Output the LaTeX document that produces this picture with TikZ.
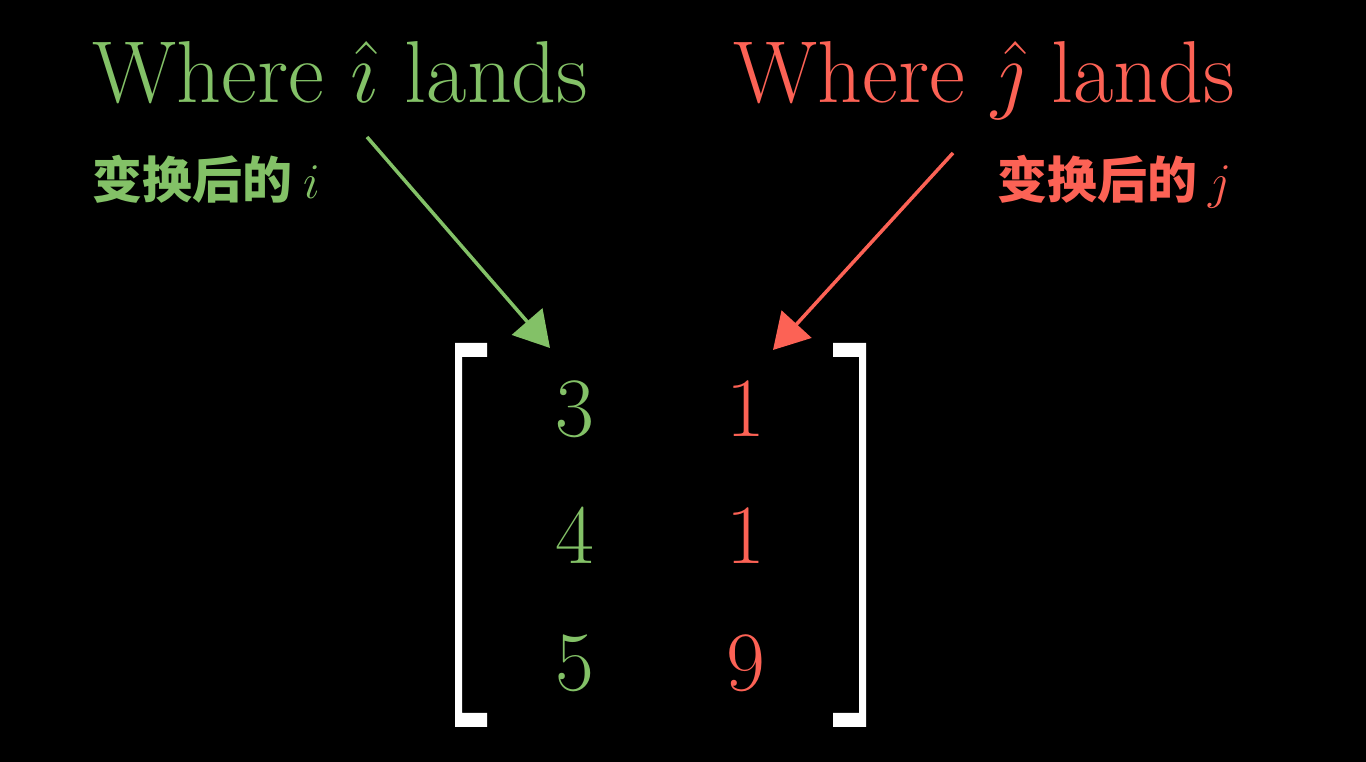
\RequirePackage{fix-cm}
\documentclass[tikz,border=0pt]{standalone}
\usepackage{fontspec}
\newfontfamily\cjk{Noto Sans CJK SC}
\usetikzlibrary{arrows.meta}
\definecolor{basisi}{HTML}{83C167}
\definecolor{basisj}{HTML}{FC6255}

\begin{document}
\begin{tikzpicture}[
  x=0.01cm, y=-0.01cm,
  ttl/.style     = {anchor=base west, inner sep=0pt, font=\fontsize{25}{29}\selectfont},
  sub/.style     = {anchor=base west, inner sep=0pt, font=\cjk\bfseries\fontsize{14.2}{17}\selectfont},
  ent/.style     = {anchor=base, inner sep=0pt, font=\fontsize{24}{28}\selectfont},
  brk/.style     = {fill=white},
  pointer/.style = {-{Triangle[length=3.5mm, width=4mm]}, line width=1pt},
]
\useasboundingbox (0,0) rectangle (1366,762);
\fill[black] (0,0) rectangle (1366,762);

% --- the two headings and their captions ----------------------------------------------------------
\node[ttl, text=basisi] (ititle) at (92,103)  {Where $\hat{\imath}$ lands};
\node[ttl, text=basisj] (jtitle) at (733,103) {Where $\hat{\jmath}$ lands};
\node[sub, text=basisi] (ilabel) at (92,199)  {变换后的 $i$};
\node[sub, text=basisj] (jlabel) at (997,199) {变换后的 $j$};

% --- the matrix, one column per basis vector ------------------------------------------------------
\node[ent, text=basisi] (i1) at (575,437) {3};
\node[ent, text=basisi] (i2) at (575,564) {4};
\node[ent, text=basisi] (i3) at (575,691) {5};
\node[ent, text=basisj] (j1) at (746,437) {1};
\node[ent, text=basisj] (j2) at (746,564) {1};
\node[ent, text=basisj] (j3) at (746,691) {9};

\fill[brk] (487,343) -- (455,343) -- (455,727) -- (487,727) -- (487,713) -- (462,713)
  -- (462,357) -- (487,357) -- cycle;
\fill[brk] (833,343) -- (866,343) -- (866,727) -- (833,727) -- (833,713) -- (859,713)
  -- (859,357) -- (833,357) -- cycle;

% --- arrows from the headings down onto the columns -----------------------------------------------
\coordinate (itail) at (367,137);
\coordinate (ihead) at (550,348);
\coordinate (jtail) at (953,153);
\coordinate (jhead) at (773,350);
\draw[pointer, draw=basisi, fill=basisi] (itail) -- (ihead);
\draw[pointer, draw=basisj, fill=basisj] (jtail) -- (jhead);

\end{tikzpicture}
\end{document}
